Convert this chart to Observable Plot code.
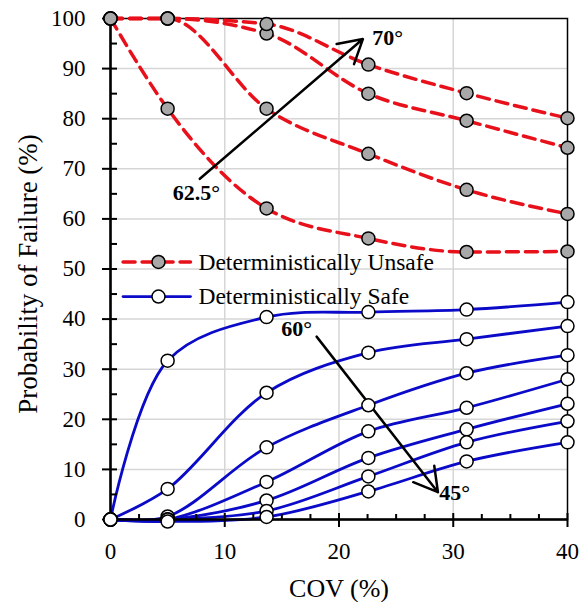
<!DOCTYPE html>
<html><head><meta charset="utf-8">
<script src="https://cdn.jsdelivr.net/npm/d3@7"></script>
<script src="https://cdn.jsdelivr.net/npm/@observablehq/plot@0.6"></script>
<style>
body{margin:0;background:#fff}
#chart svg, #chart svg text { font-family: "Liberation Serif", "Times New Roman", serif !important; }
</style>
</head><body><div id="chart"></div>
<script>
// ---- data ----
const cov = [0, 5, 13.66, 22.57, 31.17, 40];
const unsafeAngles = ["62.5°", "65°", "67.5°", "70°"];
const unsafeValues = [
  [100, 82.0, 62.1, 56.1, 53.4, 53.5],
  [100, 100, 82.0, 73.0, 65.8, 61.0],
  [100, 100, 97.0, 85.0, 79.6, 74.2],
  [100, 100, 98.9, 90.8, 85.1, 80.1]
];
const safeAngles = ["60°", "57.5°", "55°", "52.5°", "50°", "47.5°", "45°"];
const safeValues = [
  [0, 31.7, 40.4, 41.4, 41.9, 43.4],
  [0, 6.1, 25.3, 33.3, 36.0, 38.6],
  [0, 0.6, 14.4, 22.8, 29.2, 32.8],
  [0, 0, 7.5, 17.6, 22.3, 28.0],
  [0, 0, 3.8, 12.3, 18.0, 23.1],
  [0, 0, 1.7, 8.6, 15.4, 19.6],
  [0, -0.4, 0.5, 5.6, 11.6, 15.4]
];
const xTicks = [0, 10, 20, 30, 40];
const xMinorTicks = [2.5, 5, 7.5, 12.5, 15, 17.5, 22.5, 25, 27.5, 32.5, 35, 37.5];
const yTicks = [0, 10, 20, 30, 40, 50, 60, 70, 80, 90, 100];
const yMinorTicks = [5, 15, 25, 35, 45, 55, 65, 75, 85, 95];
const xGrid = [10, 20, 30];
const yGrid = [10, 20, 30, 40, 50, 60, 70, 80, 90];
const xTitle = "COV (%)";
const yTitle = "Probability of Failure (%)";
// annotations (data units)
const arrowFrom = [[7.82, 68.0], [18.04, 36.5]];
const arrowTo = [[22.09, 95.9], [28.66, 5.45]];
const annotationText = ["62.5°", "70°", "60°", "45°"];
const annotationPos = [[7.53, 65.1], [24.26, 96.1], [16.29, 38.1], [30.12, 5.2]];
// legend (data units)
const legendLabels = ["Deterministically Unsafe", "Deterministically Safe"];
const legendY = [51.4, 44.5];
const legendLineX = [1.1, 7.0];
const legendMarkerX = 4.2;
const legendTextX = 7.7;

// ---- tidy tables ----
const unsafeData = unsafeAngles.flatMap((a, i) => cov.map((c, j) => ({angle: a, cov: c, pf: unsafeValues[i][j]})));
const safeData = safeAngles.flatMap((a, i) => cov.map((c, j) => ({angle: a, cov: c, pf: safeValues[i][j]})));
const arrows = arrowFrom.map((f, i) => ({x1: f[0], y1: f[1], x2: arrowTo[i][0], y2: arrowTo[i][1]}));
const annotations = annotationText.map((t, i) => ({text: t, x: annotationPos[i][0], y: annotationPos[i][1]}));
const legendLines = legendLabels.flatMap((l, i) => legendLineX.map(x => ({label: l, x, y: legendY[i]})));
const legendMarkers = legendLabels.map((l, i) => ({label: l, x: legendMarkerX, y: legendY[i], kind: i}));
const legendTexts = legendLabels.map((l, i) => ({label: l, x: legendTextX, y: legendY[i]}));

const RED = "#e8101a", BLUE = "#0a0ac8", GRAY = "#a8a8a8";
const FONT = "Liberation Serif";
const W = 585, H = 602, ML = 110, MR = 18, MT = 18, MB = 83;
const FW = W - ML - MR, FH = H - MT - MB;

const chart = Plot.plot({
  width: W,
  height: H,
  marginLeft: ML,
  marginRight: MR,
  marginTop: MT,
  marginBottom: MB,
  style: {fontFamily: FONT, color: "black", background: "white"},
  x: {domain: [0, 40]},
  y: {domain: [0, 100]},
  marks: [
    Plot.gridX(xGrid, {stroke: "#d6d6d6", strokeOpacity: 1, strokeWidth: 1.5}),
    Plot.gridY(yGrid, {stroke: "#d6d6d6", strokeOpacity: 1, strokeWidth: 1.5}),
    Plot.frame({stroke: "black", strokeWidth: 1.5}),
    // lines
    Plot.line(unsafeData, {x: "cov", y: "pf", z: "angle", stroke: RED, strokeWidth: 3.5, strokeDasharray: "12,7", curve: "monotone-x"}),
    Plot.line(safeData, {x: "cov", y: "pf", z: "angle", stroke: BLUE, strokeWidth: 2.8, curve: "catmull-rom"}),
    // legend
    Plot.line(legendLines.filter(d => d.label === legendLabels[0]), {x: "x", y: "y", stroke: RED, strokeWidth: 3.5, strokeDasharray: "12,7"}),
    Plot.line(legendLines.filter(d => d.label === legendLabels[1]), {x: "x", y: "y", stroke: BLUE, strokeWidth: 2.8}),
    Plot.dot(legendMarkers, {x: "x", y: "y", r: 6.5, fill: d => d.kind === 0 ? GRAY : "white", stroke: "black", strokeWidth: 1.5}),
    Plot.text(legendTexts, {x: "x", y: "y", text: "label", textAnchor: "start", fontSize: 23.5, fontFamily: FONT, fill: "black"}),
    // arrows & annotations
    Plot.arrow(arrows, {x1: "x1", y1: "y1", x2: "x2", y2: "y2", stroke: "black", strokeWidth: 2.5, headLength: 16, inset: 0}),
    Plot.text(annotations, {x: "x", y: "y", text: "text", fontSize: 22, fontWeight: "bold", fontFamily: FONT, fill: "black"}),
    // axis lines
    Plot.ruleX([0], {stroke: "black", strokeWidth: 2.5}),
    Plot.ruleY([0], {stroke: "black", strokeWidth: 2.5}),
    // tick marks (major cross the axis, minor inside)
    Plot.tickY(yTicks, {y: d => d, stroke: "black", strokeWidth: 2, insetLeft: -8, insetRight: FW - 7}),
    Plot.tickY(yMinorTicks, {y: d => d, stroke: "black", strokeWidth: 2, insetLeft: 0, insetRight: FW - 7}),
    Plot.tickX(xTicks, {x: d => d, stroke: "black", strokeWidth: 2, insetBottom: -8, insetTop: FH - 6}),
    Plot.tickX(xMinorTicks, {x: d => d, stroke: "black", strokeWidth: 2, insetBottom: 0, insetTop: FH - 5}),
    // tick labels
    Plot.axisY(yTicks, {tickSize: 0, tickPadding: 25, fontSize: 23, fontFamily: FONT, label: null}),
    Plot.axisX(xTicks, {tickSize: 0, tickPadding: 23, fontSize: 23, fontFamily: FONT, label: null}),
    // points
    Plot.dot(unsafeData, {x: "cov", y: "pf", r: 6.5, fill: GRAY, stroke: "black", strokeWidth: 1.5}),
    Plot.dot(safeData, {x: "cov", y: "pf", r: 6.5, fill: "white", stroke: "black", strokeWidth: 1.5}),
    // axis titles
    Plot.text([xTitle], {text: d => d, frameAnchor: "bottom", textAnchor: "middle", lineAnchor: "middle", dy: 69, fontSize: 26, fontFamily: FONT, fill: "black"}),
    Plot.text([yTitle], {text: d => d, frameAnchor: "left", textAnchor: "middle", lineAnchor: "middle", dx: -82, dy: 5, rotate: -90, fontSize: 27, fontFamily: FONT, fill: "black"})
  ]
});
document.getElementById("chart").appendChild(chart);
</script>
</body></html>
